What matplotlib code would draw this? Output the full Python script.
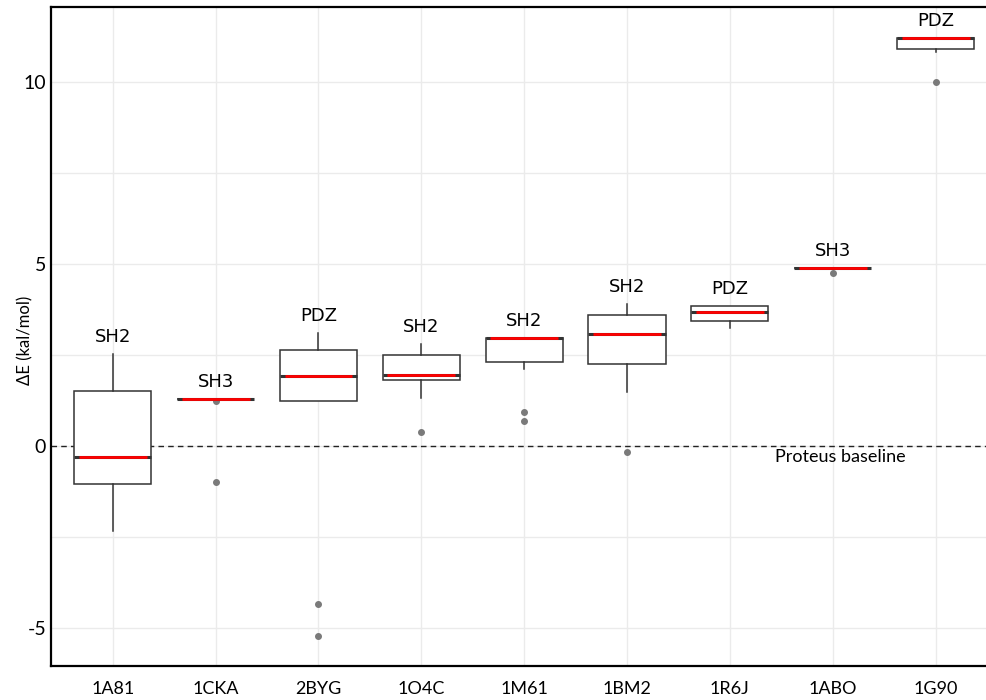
import numpy as np
import matplotlib
matplotlib.use('Agg')
import matplotlib.pyplot as plt

# complexes, ordered as in the figure
complexes = ['1A81', '1CKA', '2BYG', '1O4C', '1M61', '1BM2', '1R6J', '1ABO', '1G90']
domains = ['SH2', 'SH3', 'PDZ', 'SH2', 'SH2', 'SH2', 'PDZ', 'SH3', 'PDZ']

# box statistics (kcal/mol)
whislo = [-2.34, 1.29, 1.24, 1.31, 2.11, 1.49, 3.23, 4.90, 10.82]
q1 = [-1.04, 1.29, 1.24, 1.81, 2.31, 2.26, 3.43, 4.90, 10.90]
med = [-0.30, 1.29, 1.92, 1.95, 2.97, 3.08, 3.68, 4.90, 11.22]
q3 = [1.51, 1.29, 2.64, 2.49, 2.97, 3.60, 3.84, 4.90, 11.22]
whishi = [2.53, 1.29, 3.10, 2.79, 2.97, 3.89, 3.84, 4.90, 11.22]
fliers = [[], [1.22, -0.99], [-4.34, -5.22], [0.37], [0.93, 0.68],
          [-0.17], [], [4.75], [10.0]]

plt.rcParams['font.family'] = ['Lato', 'DejaVu Sans']

fig = plt.figure(figsize=(9.87, 7.0), dpi=100)
ax = fig.add_axes([0.0517, 0.0486, 0.9483, 0.9414])

stats = []
for i in range(len(complexes)):
    stats.append(dict(med=med[i], q1=q1[i], q3=q3[i], whislo=whislo[i],
                      whishi=whishi[i], fliers=fliers[i], label=complexes[i]))

pos = np.arange(len(complexes))
ax.bxp(stats, positions=pos, widths=0.75, showcaps=False, patch_artist=True,
       boxprops=dict(facecolor='white', edgecolor='#333333', linewidth=1.1),
       whiskerprops=dict(color='#333333', linewidth=1.1),
       medianprops=dict(color='#333333', linewidth=2.2),
       flierprops=dict(marker='o', markerfacecolor='#7a7a7a',
                       markeredgecolor='#7a7a7a', markersize=4),
       zorder=3)
# red median line on top, a touch shorter than the box
ax.hlines(med, pos - 0.33, pos + 0.33, colors='red', linewidth=2.0, zorder=4)

for i in range(len(complexes)):
    ax.text(pos[i], whishi[i] + 0.22, domains[i], ha='center', va='bottom',
            fontsize=13, family=['DejaVu Sans'], zorder=5)

ax.axhline(0, color='#222222', linestyle=(0, (4, 3)), linewidth=1.0, zorder=2)
ax.text(7.07, -0.1, 'Proteus baseline', ha='center', va='top', fontsize=13)

ax.set_xlim(-0.6, 8.5)
ax.set_ylim(-6.05, 12.06)
ax.set_xticks(pos)
ax.set_xticklabels(complexes, fontsize=13)
ax.set_yticks([-5, 0, 5, 10])
ax.set_yticklabels(['-5', '0', '5', '10'], fontsize=14)
ax.set_yticks([-2.5, 2.5, 7.5], minor=True)
ax.tick_params(axis='both', which='both', length=0)
ax.tick_params(axis='x', pad=11)
ax.tick_params(axis='y', pad=3.5)
fig.text(25 / 987, 0.514, 'ΔE (kal/mol)', rotation=90, ha='center',
         va='center', fontsize=12)

ax.grid(True, which='both', color='#ebebeb', linewidth=1.0, zorder=0)
ax.set_axisbelow(True)
for s in ['left', 'bottom', 'top']:
    ax.spines[s].set_linewidth(1.6)
    ax.spines[s].set_color('black')
ax.spines['right'].set_visible(False)

fig.savefig('out.png', dpi=100)
